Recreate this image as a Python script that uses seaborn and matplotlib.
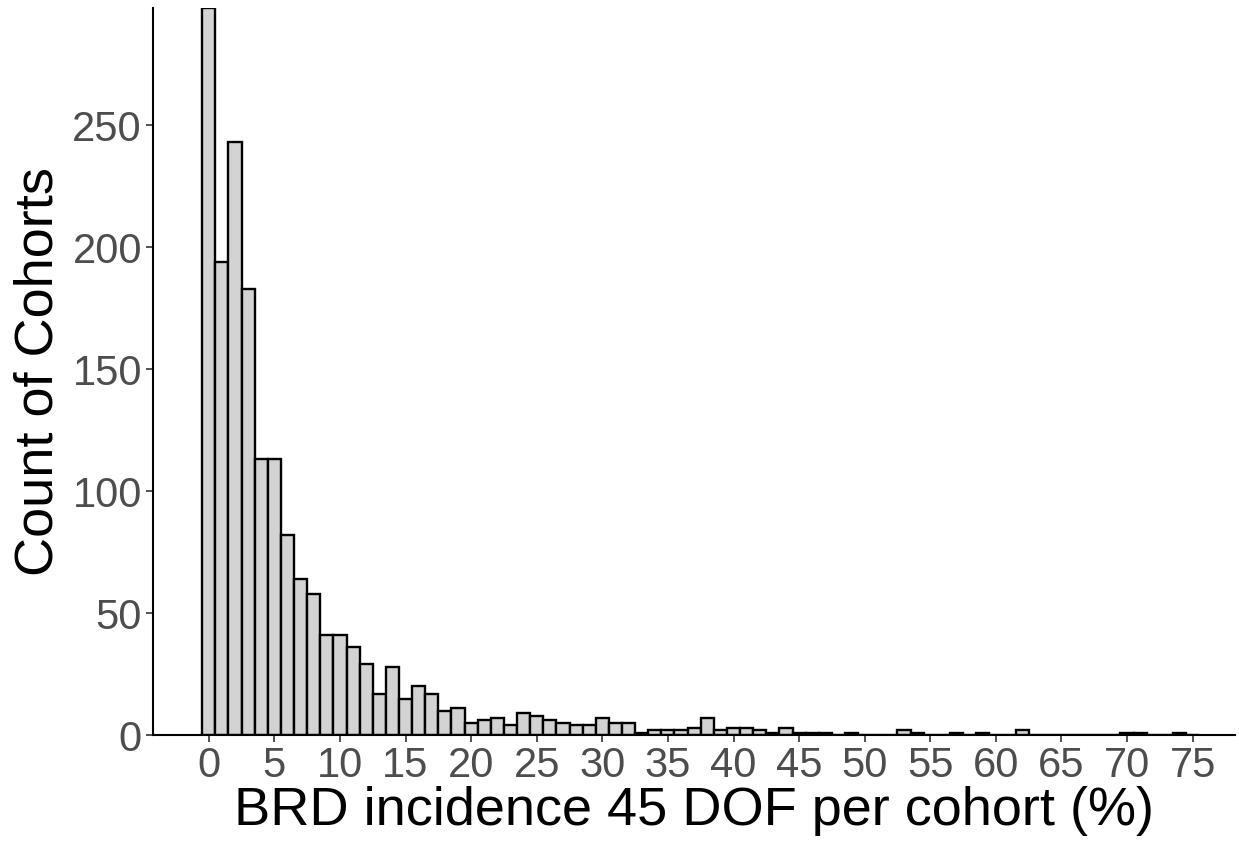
import numpy as np
import pandas as pd
import matplotlib
matplotlib.use('Agg')
import matplotlib.pyplot as plt
import seaborn as sns

# BRD incidence (%) bin centres and cohort counts
incidence = list(range(0, 76))
cohorts = [298, 194, 243, 183, 113, 113, 82, 64, 58, 41,
           41, 36, 29, 17, 28, 15, 20, 17, 10, 11,
           5, 6, 7, 4, 9, 8, 6, 5, 4, 4,
           7, 5, 5, 1, 2, 2, 2, 3, 7, 2,
           3, 3, 2, 1, 3, 1, 1, 1, 0, 1,
           0, 0, 0, 2, 1, 0, 0, 1, 0, 1,
           0, 0, 2, 0, 0, 0, 0, 0, 0, 0,
           1, 1, 0, 0, 1, 0]

x_ticks = list(range(0, 80, 5))
y_ticks = [0, 50, 100, 150, 200, 250]

df = pd.DataFrame({'incidence': incidence, 'cohorts': cohorts})

sns.set_style('ticks')
plt.rcParams['font.family'] = ['Liberation Sans', 'DejaVu Sans']

fig = plt.figure(figsize=(12.39, 8.44), dpi=100)
ax = fig.add_axes([0.1235, 0.129, 0.8735, 0.8615])

sns.histplot(data=df, x='incidence', weights='cohorts', binwidth=1,
             binrange=(-0.5, 75.5), color='#D3D3D3', alpha=1,
             edgecolor='black', linewidth=1.7, ax=ax)

ax.set_xlim(-4.25, 78.25)
ax.set_ylim(0, 298)
ax.set_xticks(x_ticks)
ax.set_yticks(y_ticks)
ax.tick_params(axis='both', labelsize=30, labelcolor='#4D4D4D', color='#333333',
               width=1.2, length=5, pad=3)
ax.set_xlabel('BRD incidence 45 DOF per cohort (%)', fontsize=39, color='black', labelpad=0)
ax.set_ylabel('Count of Cohorts', fontsize=39, color='black', labelpad=6)

for side in ['top', 'right']:
    ax.spines[side].set_visible(False)
for side in ['left', 'bottom']:
    ax.spines[side].set_color('black')
    ax.spines[side].set_linewidth(1.5)

fig.savefig('out.png', dpi=100)
